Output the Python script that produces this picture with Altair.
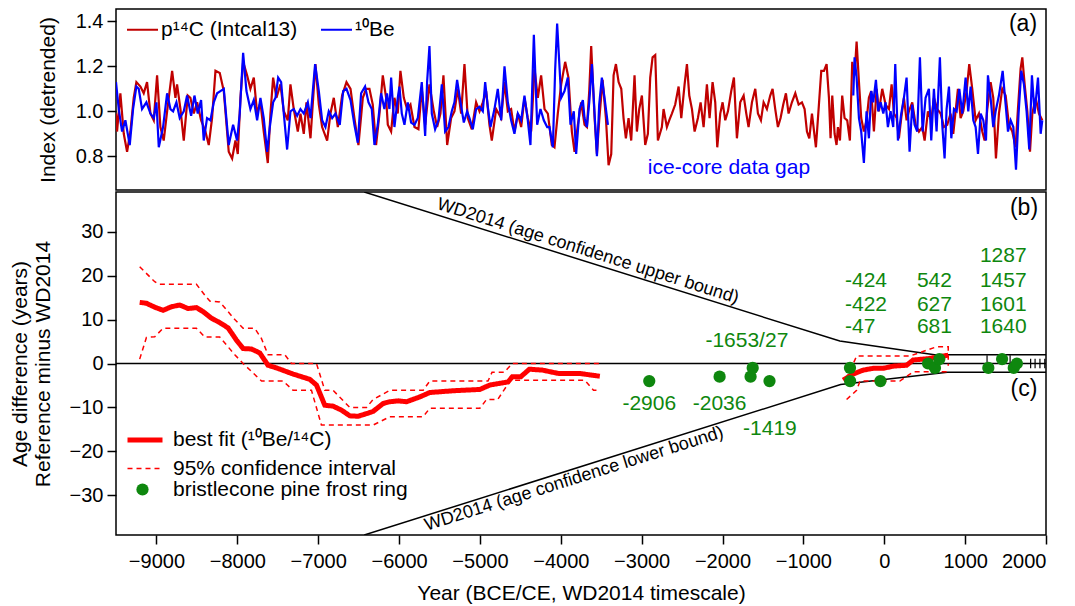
import altair as alt
import pandas as pd

FONT = "Liberation Sans"
RED_DARK = "#C00000"
BLUE = "#0000FF"
RED = "#FF0000"
GREEN = "#0E870E"

C14_LABEL = "p¹⁴C (Intcal13)"
BE_LABEL = "¹⁰Be"
FIT_LABEL = "best fit (¹⁰Be/¹⁴C)"
CI_LABEL = "95% confidence interval"
PINE_LABEL = "bristlecone pine frost ring"

X_TICKS = [-9000, -8000, -7000, -6000, -5000, -4000, -3000, -2000, -1000, 0, 1000, 2000]
TOP_TICKS = [0.8, 1.0, 1.2, 1.4]
BOT_TICKS = [-30, -20, -10, 0, 10, 20, 30]

# ---------------- panel (a): production index series (year, value) ----------------
C14_SERIES = [
    (-9500, 0.99), (-9487, 0.91), (-9446, 1.08), (-9404, 0.90), (-9363, 0.82), (-9322, 0.91),
    (-9281, 1.06), (-9248, 1.13), (-9198, 1.11), (-9157, 1.08), (-9116, 1.13), (-9074, 0.99),
    (-9033, 0.96), (-8992, 1.16), (-8951, 0.93), (-8910, 0.87), (-8868, 1.00), (-8806, 1.18),
    (-8765, 1.06), (-8745, 1.12), (-8703, 1.01), (-8662, 0.87), (-8613, 1.07), (-8580, 1.06),
    (-8538, 0.99), (-8497, 1.04), (-8448, 0.96), (-8394, 0.91), (-8353, 0.85), (-8312, 0.97),
    (-8270, 1.18), (-8217, 1.17), (-8167, 1.09), (-8106, 0.82), (-8064, 0.79), (-8023, 0.87),
    (-7994, 0.81), (-7961, 1.06), (-7928, 1.22), (-7879, 1.16), (-7838, 1.10), (-7796, 1.15),
    (-7755, 0.99), (-7714, 1.04), (-7673, 0.91), (-7623, 0.77), (-7590, 0.99), (-7557, 1.15),
    (-7516, 1.06), (-7467, 1.12), (-7425, 1.00), (-7376, 0.96), (-7343, 1.12), (-7302, 1.01),
    (-7252, 0.91), (-7219, 0.99), (-7178, 0.90), (-7145, 1.04), (-7095, 0.88), (-7034, 1.21),
    (-6992, 1.03), (-6951, 0.93), (-6889, 0.87), (-6848, 0.99), (-6807, 1.06), (-6757, 0.93),
    (-6704, 1.07), (-6650, 1.13), (-6600, 1.10), (-6552, 0.97), (-6502, 0.85), (-6448, 1.06),
    (-6407, 1.10), (-6366, 1.10), (-6325, 1.03), (-6284, 0.85), (-6242, 0.99), (-6201, 1.16),
    (-6160, 1.06), (-6139, 0.94), (-6098, 0.91), (-6057, 1.06), (-6016, 0.99), (-5983, 1.18),
    (-5941, 1.06), (-5900, 1.01), (-5859, 1.03), (-5809, 0.93), (-5760, 0.92), (-5719, 1.10),
    (-5677, 0.94), (-5624, 1.12), (-5570, 1.00), (-5529, 0.93), (-5488, 0.99), (-5451, 1.16),
    (-5405, 0.85), (-5356, 0.97), (-5315, 1.00), (-5273, 1.10), (-5232, 0.99), (-5191, 1.21),
    (-5150, 0.97), (-5100, 0.92), (-5047, 1.04), (-5005, 1.00), (-4964, 1.04), (-4923, 1.09),
    (-4882, 0.94), (-4853, 0.87), (-4799, 1.01), (-4737, 0.97), (-4696, 1.13), (-4655, 1.00),
    (-4614, 1.01), (-4573, 0.91), (-4531, 0.99), (-4490, 0.93), (-4449, 1.06), (-4408, 0.97),
    (-4366, 0.91), (-4325, 1.19), (-4284, 1.06), (-4243, 1.16), (-4201, 1.01), (-4160, 0.99),
    (-4111, 0.85), (-4078, 0.84), (-4037, 0.99), (-3995, 1.12), (-3946, 1.22), (-3905, 1.15),
    (-3863, 0.91), (-3830, 0.82), (-3789, 0.94), (-3748, 1.04), (-3706, 0.94), (-3677, 0.93),
    (-3648, 1.09), (-3624, 1.29), (-3582, 0.97), (-3553, 0.81), (-3525, 0.96), (-3483, 1.14),
    (-3442, 0.97), (-3409, 0.76), (-3376, 0.81), (-3347, 1.16), (-3318, 1.21), (-3285, 1.13),
    (-3252, 1.10), (-3224, 0.97), (-3195, 0.88), (-3162, 0.97), (-3129, 0.87), (-3088, 1.16),
    (-3059, 0.91), (-3030, 1.01), (-2997, 1.07), (-2956, 0.85), (-2923, 0.90), (-2894, 1.15),
    (-2865, 1.24), (-2832, 1.25), (-2799, 0.87), (-2750, 0.93), (-2729, 1.01), (-2688, 0.93),
    (-2659, 0.96), (-2626, 0.99), (-2585, 1.03), (-2543, 1.11), (-2510, 0.97), (-2469, 1.12),
    (-2440, 1.21), (-2411, 1.07), (-2378, 1.01), (-2345, 0.91), (-2304, 0.97), (-2271, 1.04),
    (-2234, 0.93), (-2193, 1.12), (-2160, 0.97), (-2123, 1.13), (-2090, 1.04), (-2065, 0.84),
    (-2028, 0.99), (-1999, 1.04), (-1966, 0.96), (-1933, 1.00), (-1892, 1.09), (-1859, 1.15),
    (-1822, 0.88), (-1781, 1.04), (-1739, 1.07), (-1706, 0.99), (-1678, 0.93), (-1636, 1.04),
    (-1595, 1.10), (-1562, 0.99), (-1525, 0.96), (-1492, 1.04), (-1451, 1.01), (-1410, 1.07),
    (-1381, 1.10), (-1348, 1.01), (-1315, 0.93), (-1282, 0.97), (-1249, 1.03), (-1216, 1.08),
    (-1183, 0.99), (-1142, 1.04), (-1100, 1.08), (-1059, 1.03), (-1018, 1.04), (-985, 1.01),
    (-956, 0.91), (-927, 0.88), (-894, 0.99), (-845, 0.84), (-808, 1.03), (-779, 1.18),
    (-746, 1.18), (-713, 1.21), (-684, 1.06), (-664, 0.88), (-643, 1.07), (-614, 0.90),
    (-590, 0.85), (-573, 0.93), (-548, 0.87), (-520, 1.07), (-491, 0.97), (-458, 0.96),
    (-425, 0.87), (-396, 1.22), (-367, 1.16), (-342, 1.31), (-313, 1.13), (-285, 0.97),
    (-252, 0.91), (-219, 0.96), (-190, 1.06), (-161, 1.09), (-128, 0.91), (-95, 1.10),
    (-66, 1.00), (-25, 1.10), (16, 1.03), (58, 1.01), (91, 1.12), (120, 0.99), (153, 0.97),
    (181, 0.88), (210, 0.97), (243, 1.06), (276, 0.96), (305, 1.00), (346, 1.04), (388, 0.94),
    (429, 0.91), (470, 0.93), (499, 0.87), (540, 1.00), (581, 0.96), (614, 1.06), (655, 1.01),
    (697, 0.99), (738, 0.93), (779, 0.94), (820, 0.99), (853, 0.90), (882, 1.00), (911, 1.10),
    (944, 0.97), (977, 1.00), (1018, 1.09), (1051, 1.21), (1088, 1.10), (1130, 0.96),
    (1171, 0.99), (1212, 0.91), (1241, 0.87), (1274, 1.01), (1315, 1.13), (1348, 1.06),
    (1381, 0.79), (1418, 0.99), (1459, 1.10), (1501, 1.07), (1542, 0.94), (1583, 0.91),
    (1624, 0.84), (1653, 1.01), (1686, 1.19), (1707, 1.24), (1736, 1.12), (1769, 1.00),
    (1802, 0.82), (1831, 0.99), (1872, 1.06), (1913, 0.99), (1954, 0.96),
]

BE_SERIES_EARLY = [
    (-9500, 1.13), (-9466, 1.01), (-9425, 0.91), (-9384, 0.96), (-9330, 0.85), (-9289, 1.01),
    (-9248, 1.11), (-9219, 1.10), (-9178, 1.01), (-9124, 1.04), (-9074, 0.99), (-9033, 0.97),
    (-9000, 1.04), (-8971, 0.84), (-8918, 0.93), (-8868, 1.08), (-8827, 1.01), (-8794, 1.00),
    (-8753, 1.04), (-8712, 0.97), (-8662, 1.00), (-8621, 1.07), (-8571, 0.98), (-8530, 1.07),
    (-8489, 0.99), (-8448, 1.05), (-8415, 0.87), (-8374, 0.97), (-8332, 0.96), (-8291, 1.04),
    (-8250, 1.08), (-8209, 1.09), (-8167, 1.10), (-8106, 0.85), (-8052, 0.94), (-8003, 0.87),
    (-7970, 0.99), (-7928, 1.26), (-7887, 1.09), (-7838, 1.01), (-7796, 1.05), (-7755, 0.96),
    (-7714, 1.06), (-7673, 0.97), (-7631, 0.82), (-7598, 0.93), (-7557, 1.04), (-7528, 1.06),
    (-7495, 1.15), (-7458, 1.13), (-7425, 0.99), (-7384, 0.83), (-7343, 1.00), (-7302, 1.01),
    (-7260, 0.98), (-7219, 1.01), (-7178, 0.99), (-7128, 1.04), (-7095, 0.97), (-7038, 1.21),
    (-6992, 1.09), (-6951, 0.96), (-6910, 0.93), (-6869, 1.00), (-6827, 0.97), (-6786, 0.99),
    (-6733, 0.94), (-6691, 1.09), (-6650, 1.10), (-6600, 1.05), (-6552, 0.94), (-6510, 0.86),
    (-6469, 1.08), (-6420, 1.11), (-6378, 1.04), (-6337, 1.01), (-6304, 0.85), (-6263, 0.94),
    (-6222, 1.08), (-6181, 1.01), (-6149, 1.08), (-6119, 1.01), (-6098, 1.15), (-6057, 0.93),
    (-6016, 1.06), (-5995, 1.11), (-5966, 0.99), (-5933, 0.94), (-5892, 1.04), (-5851, 0.95),
    (-5809, 0.94), (-5768, 0.97), (-5719, 1.13), (-5677, 0.89), (-5653, 1.13), (-5624, 1.29),
    (-5595, 0.99), (-5554, 0.92), (-5513, 0.96), (-5471, 1.12), (-5430, 0.91), (-5389, 0.93),
    (-5348, 1.00), (-5315, 1.04), (-5282, 1.14), (-5240, 1.04), (-5199, 0.95), (-5158, 1.00),
    (-5129, 0.97), (-5088, 0.92), (-5047, 1.01), (-5005, 1.02), (-4964, 1.00), (-4935, 1.13),
    (-4902, 1.02), (-4869, 0.93), (-4820, 1.01), (-4779, 1.10), (-4737, 0.96), (-4696, 1.20),
    (-4655, 1.04), (-4614, 0.96), (-4573, 0.90), (-4531, 0.99), (-4490, 0.96), (-4449, 1.07),
    (-4408, 0.96), (-4375, 0.85), (-4333, 1.34), (-4292, 0.94), (-4251, 1.01), (-4210, 0.96),
    (-4168, 0.93), (-4140, 0.93), (-4098, 0.84), (-4070, 1.18), (-4045, 1.39), (-3995, 1.06),
    (-3954, 1.09), (-3913, 1.15), (-3880, 0.94), (-3839, 1.00), (-3810, 0.81), (-3768, 1.01),
    (-3727, 1.05), (-3706, 0.97), (-3677, 0.93), (-3648, 1.04), (-3615, 1.21), (-3582, 0.99),
    (-3553, 0.80), (-3525, 1.03), (-3492, 1.15), (-3459, 1.06), (-3417, 0.94),
]

BE_SERIES_LATE = [
    (-383, 1.07), (-367, 1.24), (-342, 1.15), (-313, 0.97), (-285, 0.91), (-252, 0.77),
    (-219, 1.00), (-190, 0.88), (-161, 1.09), (-136, 1.04), (-103, 1.14), (-74, 1.00),
    (-45, 1.04), (-12, 0.99), (16, 1.04), (45, 0.93), (78, 1.00), (111, 0.93), (136, 1.21),
    (169, 0.87), (210, 0.99), (243, 1.06), (276, 1.15), (313, 0.82), (346, 1.03), (375, 0.94),
    (408, 0.91), (441, 1.24), (474, 0.91), (511, 1.06), (552, 1.10), (581, 0.87), (614, 1.10),
    (647, 0.91), (688, 1.24), (717, 0.94), (746, 0.79), (771, 1.01), (800, 1.11), (829, 0.88),
    (862, 1.01), (895, 1.00), (928, 1.10), (965, 0.99), (1006, 1.15), (1039, 1.00),
    (1068, 1.11), (1101, 0.96), (1130, 0.93), (1159, 0.81), (1192, 0.99), (1225, 0.96),
    (1258, 0.87), (1282, 1.16), (1315, 1.06), (1348, 0.93), (1377, 1.00), (1418, 1.07),
    (1464, 1.18), (1501, 1.03), (1530, 0.91), (1563, 0.96), (1596, 0.93), (1629, 0.74),
    (1661, 0.99), (1694, 1.18), (1727, 1.12), (1760, 1.00), (1793, 0.83), (1826, 1.16),
    (1859, 0.99), (1901, 1.15), (1934, 0.90), (1954, 0.96),
]

# ---------------- panels (b)/(c): age difference ----------------
FIT_EARLY = [
    (-9207, 13.9), (-9124, 13.7), (-9021, 12.8), (-8918, 12.1), (-8815, 12.9), (-8712, 13.3),
    (-8609, 12.5), (-8505, 12.7), (-8423, 11.8), (-8320, 10.3), (-8217, 9.3), (-8114, 8.1),
    (-8010, 5.3), (-7928, 3.4), (-7825, 3.3), (-7722, 2.4), (-7620, -0.4), (-7516, -1.0),
    (-7413, -1.7), (-7310, -2.4), (-7207, -3.0), (-7104, -3.6), (-7021, -4.9), (-6918, -9.5),
    (-6816, -9.7), (-6712, -10.6), (-6609, -11.9), (-6506, -12.0), (-6403, -11.4),
    (-6321, -10.9), (-6197, -9.1), (-6114, -8.7), (-6010, -8.5), (-5908, -8.7), (-5743, -7.6),
    (-5620, -6.6), (-5331, -6.2), (-5001, -5.9), (-4878, -4.9), (-4652, -4.2), (-4599, -3.0),
    (-4494, -3.0), (-4388, -1.3), (-4229, -1.5), (-4018, -2.3), (-3753, -2.3), (-3517, -2.9),
]
FIT_LATE = [
    (-508, -3.8), (-400, -2.5), (-260, -1.5), (-136, -1.1), (-13, -1.1), (111, -0.6),
    (276, -0.4), (358, 0.8), (543, 1.1), (791, 1.9),
]
CI_UPPER_EARLY = [
    (-9207, 22.0), (-9021, 18.6), (-8959, 18.0), (-8505, 18.0), (-8400, 15.5), (-8340, 14.2),
    (-8217, 14.0), (-8031, 10.0), (-7928, 8.0), (-7784, 8.0), (-7702, 5.7), (-7620, 2.0),
    (-7413, 2.0), (-7330, 0.0), (-7021, 0.0), (-6918, -6.1), (-6816, -6.1), (-6609, -10.0),
    (-6403, -10.0), (-6321, -8.2), (-6114, -6.1), (-5702, -6.1), (-5620, -4.0), (-4900, -4.0),
    (-4850, -2.0), (-4700, -2.0), (-4600, 0.0), (-3517, 0.0),
]
CI_LOWER_EARLY = [
    (-9207, 1.0), (-9124, 5.9), (-9021, 6.1), (-8918, 8.0), (-8505, 8.0), (-8400, 6.0),
    (-8217, 6.0), (-8031, 2.0), (-7928, 0.0), (-7700, -4.0), (-7433, -4.0), (-7310, -6.1),
    (-7083, -6.1), (-6960, -14.0), (-6321, -14.0), (-6114, -12.1), (-5702, -12.1),
    (-5620, -10.2), (-5001, -10.2), (-4919, -8.2), (-4780, -8.2), (-4705, -6.1), (-4620, -3.8),
    (-3702, -3.8), (-3595, -6.1), (-3517, -6.1),
]
CI_UPPER_LATE = [
    (-466, -3.5), (-342, 1.7), (317, 1.7), (647, 3.8), (791, 3.8), (791, -0.5),
]
CI_LOWER_LATE = [
    (-466, -8.2), (-342, -6.1), (-300, -4.0), (193, -4.0), (358, -1.9), (605, -1.9), (791, -1.9),
]
WD_UPPER = [(-6430, 39.0), (-550, 5.1), (620, 2.0), (2000, 2.0)]
WD_LOWER = [(-6430, -39.0), (-540, -4.8), (780, -2.0), (2000, -2.0)]
WD_STEPS = [(1271, 0.3, 1.9), (1556, 0.0, 1.9), (1810, -1.1, 1.1), (1865, -1.1, 1.1),
            (1925, -1.1, 1.1), (1985, -1.1, 1.1)]

PINE_YEARS = [-2906, -2036, -1653, -1627, -1419, -424, -422, -47, 542, 627, 681, 1287, 1457, 1601, 1640]
PINE_DIFF = [-4, -3, -3, -1, -4, -1, -4, -4, 0, -1, 1, -1, 1, -1, 0]

LABELS_CENTER = [("-2906", -2906, -9.1), ("-2036", -2036, -9.1), ("-1653/27", -1699, 5.2),
                 ("-1419", -1414, -14.8)]
LABELS_LEFT = [("-424", -486, 18.7), ("-422", -486, 13.4), ("-47", -486, 8.2),
               ("542", 404, 18.7), ("627", 404, 13.4), ("681", 404, 8.2),
               ("1287", 1183, 24.4), ("1457", 1183, 18.7), ("1601", 1183, 13.4), ("1640", 1183, 8.2)]
WD_TEXT = [("WD2014 (age confidence upper bound)", -3665, 25.5),
           ("WD2014 (age confidence lower bound)", -3835, -26.3)]


def frame(pairs, series, seg):
    return pd.DataFrame({"year": [p[0] for p in pairs], "value": [p[1] for p in pairs],
                         "series": series, "seg": seg})


x_scale = alt.Scale(domain=[-9500, 2000], nice=False, zero=False)

# ---------------- top panel ----------------
top_legend = alt.Legend(orient="none", legendX=10, legendY=4, direction="horizontal", title=None,
                        symbolType="stroke", symbolSize=961, symbolStrokeWidth=2,
                        labelFontSize=21, labelFont=FONT, labelColor="black", labelOffset=2,
                        labelLimit=500, columnPadding=19, padding=0)
top_color = alt.Color("series:N", scale=alt.Scale(domain=[C14_LABEL, BE_LABEL], range=[RED_DARK, BLUE]),
                      legend=top_legend)
top_y = alt.Y("value:Q", scale=alt.Scale(domain=[0.65, 1.455], nice=False, zero=False),
              axis=alt.Axis(values=TOP_TICKS, format=".1f", title="Index (detrended)", titlePadding=17))
top_x = alt.X("year:Q", scale=x_scale, axis=None)

c14_df = frame(C14_SERIES, C14_LABEL, "c14")
be_df = pd.concat([frame(BE_SERIES_EARLY, BE_LABEL, "early"), frame(BE_SERIES_LATE, BE_LABEL, "late")])

red_line = alt.Chart(c14_df).mark_line(strokeWidth=2.2, clip=True).encode(
    x=top_x, y=top_y, color=top_color, detail="seg:N")
blue_line = alt.Chart(be_df).mark_line(strokeWidth=2.2, clip=True).encode(
    x=top_x, y=top_y, color=top_color, detail="seg:N")
tag_a = alt.Chart(pd.DataFrame({"t": ["(a)"]})).mark_text(
    font=FONT, fontSize=23, color="black", align="center", baseline="middle").encode(
    text="t:N", x=alt.value(907), y=alt.value(15))
gap_text = alt.Chart(pd.DataFrame({"t": ["ice-core data gap"]})).mark_text(
    font=FONT, fontSize=21, color=BLUE, align="center", baseline="middle").encode(
    text="t:N", x=alt.value(613), y=alt.value(159))

top = alt.layer(red_line, blue_line, tag_a, gap_text).properties(width=930, height=181)

# ---------------- bottom panel ----------------
line_legend = alt.Legend(
    orient="none", legendX=9, legendY=228, direction="vertical", title=None,
    symbolType="stroke", symbolSize=1225,
    labelFontSize=21, labelFont=FONT, labelColor="black", labelOffset=8, labelLimit=500,
    rowPadding=-10, padding=0)
LINE_KINDS = [FIT_LABEL, CI_LABEL]
bot_color = alt.Color("kind:N", scale=alt.Scale(domain=LINE_KINDS, range=[RED, RED]), legend=line_legend)
bot_dash = alt.StrokeDash("kind:N", scale=alt.Scale(domain=LINE_KINDS, range=[[1, 0], [5, 4]]),
                          legend=line_legend)
bot_width = alt.StrokeWidth("kind:N", scale=alt.Scale(domain=LINE_KINDS, range=[5, 1.5]),
                            legend=line_legend)
pine_legend = alt.Legend(
    orient="none", legendX=16, legendY=287, title=None, symbolType="circle", symbolSize=150,
    labelFontSize=21, labelFont=FONT, labelColor="black", labelOffset=20, labelLimit=500, padding=0)
pine_fill = alt.Fill("pkind:N", scale=alt.Scale(domain=[PINE_LABEL], range=[GREEN]), legend=pine_legend)

bot_y = alt.Y("value:Q", scale=alt.Scale(domain=[-39, 39], nice=False, zero=False),
              axis=alt.Axis(values=BOT_TICKS, title=["Age difference (years)", "Reference minus WD2014"],
                            titlePadding=16, titleLineHeight=23))
bot_x = alt.X("year:Q", scale=x_scale,
              axis=alt.Axis(values=X_TICKS, format="d", title="Year (BCE/CE, WD2014 timescale)",
                            labelPadding=7, titlePadding=11))


def kind_frame(pairs, kind, seg):
    df = frame(pairs, kind, seg)
    df["kind"] = kind
    return df


fit_df = pd.concat([kind_frame(FIT_EARLY, FIT_LABEL, "e"), kind_frame(FIT_LATE, FIT_LABEL, "l")])
ci_df = pd.concat([kind_frame(CI_UPPER_EARLY, CI_LABEL, "ue"), kind_frame(CI_LOWER_EARLY, CI_LABEL, "le"),
                   kind_frame(CI_UPPER_LATE, CI_LABEL, "ul"), kind_frame(CI_LOWER_LATE, CI_LABEL, "ll")])
wd_df = pd.concat([frame(WD_UPPER, "wd", "u"), frame(WD_LOWER, "wd", "l")])
steps_df = pd.DataFrame({"year": [s[0] for s in WD_STEPS], "lo": [s[1] for s in WD_STEPS],
                         "hi": [s[2] for s in WD_STEPS]})
pine_df = pd.DataFrame({"year": PINE_YEARS, "value": PINE_DIFF, "pkind": PINE_LABEL})
lc_df = pd.DataFrame({"t": [l[0] for l in LABELS_CENTER], "year": [l[1] for l in LABELS_CENTER],
                      "value": [l[2] for l in LABELS_CENTER]})
ll_df = pd.DataFrame({"t": [l[0] for l in LABELS_LEFT], "year": [l[1] for l in LABELS_LEFT],
                      "value": [l[2] for l in LABELS_LEFT]})

zero_rule = alt.Chart(pd.DataFrame({"value": [0]})).mark_rule(color="black", strokeWidth=1.5).encode(y=bot_y)
wd_lines = alt.Chart(wd_df).mark_line(color="black", strokeWidth=1.5, clip=True).encode(
    x=bot_x, y=bot_y, detail="seg:N")
wd_steps = alt.Chart(steps_df).mark_rule(color="black", strokeWidth=1.2).encode(
    x=bot_x, y=alt.Y("lo:Q", scale=alt.Scale(domain=[-39, 39], nice=False, zero=False)), y2="hi:Q")
ci_lines = alt.Chart(ci_df).mark_line(clip=True).encode(
    x=bot_x, y=bot_y, color=bot_color, strokeDash=bot_dash, strokeWidth=bot_width, detail="seg:N")
fit_lines = alt.Chart(fit_df).mark_line(clip=True).encode(
    x=bot_x, y=bot_y, color=bot_color, strokeDash=bot_dash, strokeWidth=bot_width, detail="seg:N")
pines = alt.Chart(pine_df).mark_circle(size=150, opacity=1, strokeWidth=0).encode(
    x=bot_x, y=bot_y, fill=pine_fill)
lab_c = alt.Chart(lc_df).mark_text(font=FONT, fontSize=21, color=GREEN, align="center",
                                   baseline="middle").encode(x=bot_x, y=bot_y, text="t:N")
lab_l = alt.Chart(ll_df).mark_text(font=FONT, fontSize=21, color=GREEN, align="left",
                                   baseline="middle").encode(x=bot_x, y=bot_y, text="t:N")
wd_up_text = alt.Chart(pd.DataFrame({"t": [WD_TEXT[0][0]], "year": [WD_TEXT[0][1]],
                                     "value": [WD_TEXT[0][2]]})).mark_text(
    font=FONT, fontSize=18, color="black", angle=17.5, align="center", baseline="middle").encode(
    x=bot_x, y=bot_y, text="t:N")
wd_lo_text = alt.Chart(pd.DataFrame({"t": [WD_TEXT[1][0]], "year": [WD_TEXT[1][1]],
                                     "value": [WD_TEXT[1][2]]})).mark_text(
    font=FONT, fontSize=18, color="black", angle=342.5, align="center", baseline="middle").encode(
    x=bot_x, y=bot_y, text="t:N")
tag_b = alt.Chart(pd.DataFrame({"t": ["(b)"]})).mark_text(
    font=FONT, fontSize=23, color="black", align="center", baseline="middle").encode(
    text="t:N", x=alt.value(908), y=alt.value(16))
tag_c = alt.Chart(pd.DataFrame({"t": ["(c)"]})).mark_text(
    font=FONT, fontSize=23, color="black", align="center", baseline="middle").encode(
    text="t:N", x=alt.value(908), y=alt.value(197))

bottom = alt.layer(zero_rule, wd_lines, wd_steps, ci_lines, fit_lines, pines, lab_c, lab_l,
                   wd_up_text, wd_lo_text, tag_b, tag_c).properties(width=930, height=343)

chart = alt.vconcat(top, bottom, spacing=0).resolve_scale(
    color="independent", strokeDash="independent", strokeWidth="independent", fill="independent"
).resolve_legend(
    color="independent", strokeDash="independent", strokeWidth="independent", fill="independent"
).properties(
    padding={"left": 0, "top": 0, "right": 5, "bottom": 0}
).configure_view(stroke="black", strokeWidth=1.5).configure_axis(
    labelFont=FONT, labelFontSize=20, labelColor="black", titleFont=FONT, titleFontSize=21,
    titleFontWeight="normal", titleColor="black", tickColor="black", tickSize=9, tickWidth=1.5,
    labelPadding=4, domain=False, grid=False
).configure_legend(labelFont=FONT)

chart.save("out.html", embed_options={"renderer": "svg", "actions": False})
